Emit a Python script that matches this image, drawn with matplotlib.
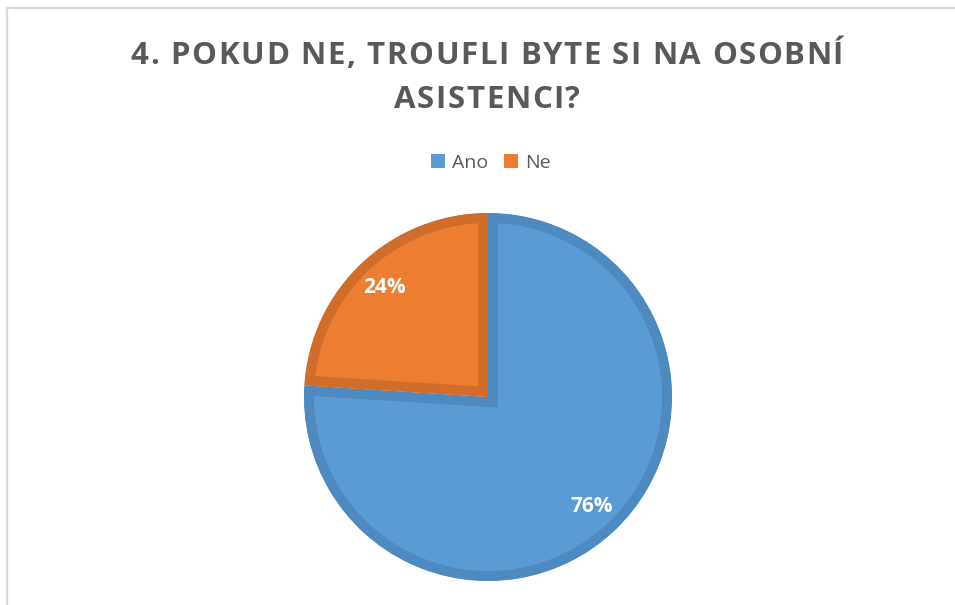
import matplotlib.pyplot as plt
from matplotlib.lines import Line2D
from matplotlib.patches import Patch, Wedge
from matplotlib.font_manager import FontProperties

# data
labels = ['Ano', 'Ne']
shares = [76, 24]
fills = ['#5B9BD5', '#ED7D31']
edges = ['#4E8AC0', '#D06D2B']
title_lines = ['4. POKUD NE, TROUFLI BYTE SI NA OSOBNÍ', 'ASISTENCI?']

plt.rcParams['font.family'] = ['Open Sans', 'DejaVu Sans']

W, H = 955, 605
fig = plt.figure(figsize=(W/100, H/100), dpi=100)
renderer = fig.canvas.get_renderer()

# chart frame (left + top only visible)
fig.add_artist(Line2D([7/W, 7/W], [0, 1 - 8/H], color='#d9d9d9', lw=1.6))
fig.add_artist(Line2D([7/W, 1], [1 - 8/H, 1 - 8/H], color='#d9d9d9', lw=1.6))

# title with letter spacing, drawn char by char
tprop = FontProperties(family='Open Sans', weight='bold', size=22.5)
spacing = 1.6
def text_w(s):
    # width of s incl. trailing spaces (pad with a bar and remove it)
    w1 = renderer.get_text_width_height_descent(s + '|', tprop, ismath=False)[0]
    w2 = renderer.get_text_width_height_descent('|', tprop, ismath=False)[0]
    return w1 - w2

for line, base in zip(title_lines, [64, 108]):
    total = text_w(line) + spacing * (len(line) - 1)
    x0 = 487 - total / 2
    for i, ch in enumerate(line):
        x = x0 + text_w(line[:i]) + spacing * i
        fig.text(x/W, 1 - base/H, ch, ha='left', va='baseline', fontproperties=tprop,
                 color='#595959')

cx, cy, r = 488, 397, 184
ax = fig.add_axes([(cx - r)/W, (H - cy - r)/H, 2*r/W, 2*r/H])
wedges, texts, autotexts = ax.pie(shares, colors=fills, startangle=90, counterclock=False,
                                  autopct='%d%%', pctdistance=0.82, radius=1,
                                  textprops=dict(color='white', fontsize=15, fontweight='bold'))
ax.set_xlim(-1, 1)
ax.set_ylim(-1, 1)
# border drawn only on the inside of each slice
for w, ec in zip(wedges, edges):
    w.set_edgecolor(ec)
    w.set_linewidth(14.4)
    clip = Wedge(w.center, w.r, w.theta1, w.theta2, transform=ax.transData)
    w.set_clip_on(True)
    w.set_clip_path(clip)
ax.set_axis_off()

handles = [Patch(facecolor=c, edgecolor='none') for c in fills]
fig.legend(handles, labels, loc='center', bbox_to_anchor=(491/W, 1 - 163/H), ncol=2,
           frameon=False, fontsize=14, handlelength=0.7, handleheight=0.7,
           handletextpad=0.4, columnspacing=0.8, labelcolor='#595959')

fig.savefig('out.png', dpi=100)
